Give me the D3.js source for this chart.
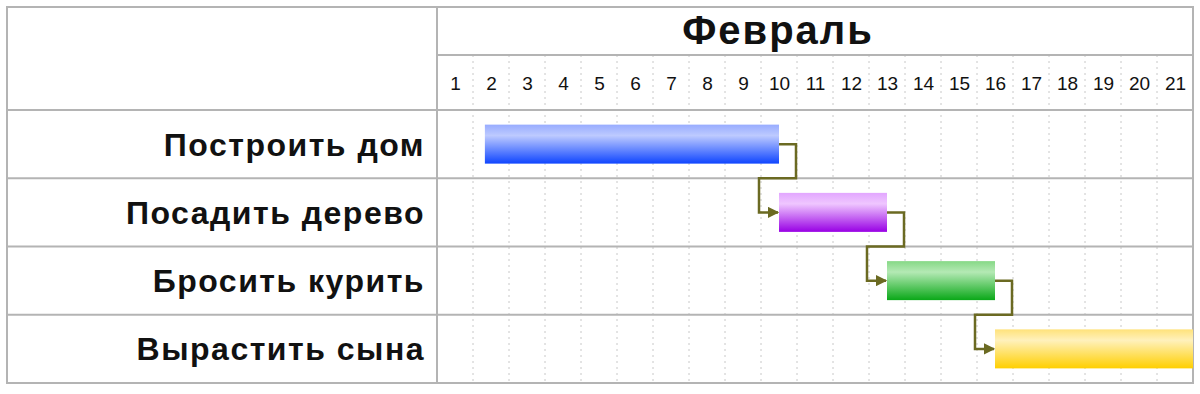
<!DOCTYPE html>
<html>
<head>
<meta charset="utf-8">
<script src="https://cdn.jsdelivr.net/npm/d3@7"></script>
<style>
  body { margin: 0; background: #fff; }
  text { font-family: "Liberation Sans", Arial, sans-serif; fill: #111; }
</style>
</head>
<body>
<div id="chart"></div>
<script>
// данные
const month = "Февраль";
const days = d3.range(1, 22);
const tasks = ["Построить дом", "Посадить дерево", "Бросить курить", "Вырастить сына"];
const starts = [1.83, 10, 13, 16];
const ends = [10, 13, 16, 21.5];
const colors = [
  ["#98acff", "#bdcaff", "#0f45ff"],
  ["#e2a6ff", "#efc6ff", "#9800e4"],
  ["#86d886", "#b4e9b4", "#0aa818"],
  ["#ffe27a", "#fff1bc", "#ffcf00"]
];

const W = 1200, H = 394;
const gLeft = 7, labelRight = 437, gRight = 1193, gTop = 7, gMid = 55, gHead = 110, gBottom = 383;

const svg = d3.select("#chart").append("svg")
  .attr("width", W).attr("height", H);

const x = d3.scaleLinear().domain([0.5, 21.5]).range([labelRight, gRight]);
const y = d3.scaleBand().domain(tasks).range([gHead, gBottom]);

// градиенты
const defs = svg.append("defs");
colors.forEach((c, i) => {
  const g = defs.append("linearGradient").attr("id", "g" + i)
    .attr("x1", 0).attr("y1", 0).attr("x2", 0).attr("y2", 1);
  g.append("stop").attr("offset", "0%").attr("stop-color", c[0]);
  g.append("stop").attr("offset", "28%").attr("stop-color", c[1]);
  g.append("stop").attr("offset", "100%").attr("stop-color", c[2]);
});
defs.append("marker").attr("id", "arrow")
  .attr("viewBox", "0 0 10 10").attr("refX", 9).attr("refY", 5)
  .attr("markerWidth", 4.5).attr("markerHeight", 4.5).attr("orient", "auto")
  .append("path").attr("d", "M0,0 L10,5 L0,10 z").attr("fill", "#6b6a22");

// пунктирная сетка
svg.append("g").selectAll("line")
  .data(days.slice(0, -1))
  .enter().append("line")
  .attr("x1", d => x(d + 0.5)).attr("x2", d => x(d + 0.5))
  .attr("y1", gMid).attr("y2", gBottom)
  .attr("stroke", "#c8c8c8").attr("stroke-width", 1)
  .attr("stroke-dasharray", "2,4");

// линии таблицы
const grid = svg.append("g").attr("stroke", "#b4b4b4").attr("stroke-width", 2);
grid.append("rect").attr("x", gLeft).attr("y", gTop)
  .attr("width", gRight - gLeft).attr("height", gBottom - gTop).attr("fill", "none");
grid.append("line").attr("x1", labelRight).attr("x2", labelRight).attr("y1", gTop).attr("y2", gBottom);
grid.append("line").attr("x1", labelRight).attr("x2", gRight).attr("y1", gMid).attr("y2", gMid);
grid.selectAll(".row").data(tasks).enter().append("line")
  .attr("x1", gLeft).attr("x2", gRight)
  .attr("y1", d => y(d)).attr("y2", d => y(d));

// заголовок месяца
svg.append("text").attr("x", 778).attr("y", 44)
  .attr("text-anchor", "middle").style("font-size", "40px").style("font-weight", "bold")
  .style("letter-spacing", "2px")
  .text(month);

// дни
const axis = svg.append("g").attr("transform", "translate(0,83)")
  .call(d3.axisTop(x).tickValues(days).tickSize(0).tickPadding(0));
axis.select(".domain").remove();
axis.selectAll("text").style("font-size", "19px").attr("dy", "0.35em")
  .style("font-family", "'Liberation Sans', Arial, sans-serif").attr("fill", "#111");

// подписи задач
svg.append("g").selectAll("text").data(tasks).enter().append("text")
  .attr("x", 425).attr("y", d => y(d) + y.bandwidth() / 2)
  .attr("dy", "0.36em").attr("text-anchor", "end")
  .style("font-size", "32px").style("font-weight", "bold")
  .style("letter-spacing", "1.5px")
  .text(d => d);

// связи
const bh = 39;
const links = svg.append("g");
for (let i = 0; i < tasks.length - 1; i++) {
  const x0 = x(ends[i]), y0 = y(tasks[i]) + y.bandwidth() / 2;
  const x1 = x(starts[i + 1]), y1 = y(tasks[i + 1]) + y.bandwidth() / 2;
  const yb = y(tasks[i + 1]);
  links.append("path")
    .attr("d", `M${x0},${y0} H${x0 + 17} V${yb} H${x1 - 20} V${y1} H${x1 - 1}`)
    .attr("fill", "none").attr("stroke", "#6b6a22").attr("stroke-width", 2.5)
    .attr("marker-end", "url(#arrow)");
}

// полосы
svg.append("g").selectAll("rect").data(tasks).enter().append("rect")
  .attr("x", (d, i) => x(starts[i]))
  .attr("width", (d, i) => x(ends[i]) - x(starts[i]))
  .attr("y", d => y(d) + (y.bandwidth() - bh) / 2)
  .attr("height", bh)
  .attr("fill", (d, i) => "url(#g" + i + ")");
</script>
</body>
</html>
